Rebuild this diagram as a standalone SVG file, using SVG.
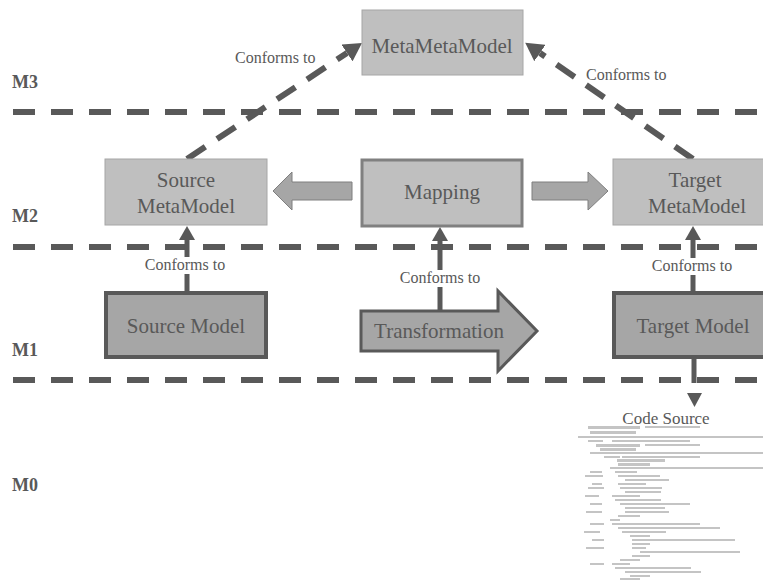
<svg xmlns="http://www.w3.org/2000/svg" width="763" height="581" viewBox="0 0 763 581" font-family="'Liberation Serif', 'DejaVu Serif', serif">
<style>
  text { font-family: 'Liberation Serif', 'DejaVu Serif', serif; fill: #595959; }
  .level { font-size: 18px; font-weight: bold; }
  .lbl { font-size: 16px; }
  .node { font-size: 21px; text-anchor: middle; }
  .meta { fill: #bfbfbf; stroke: #a6a6a6; stroke-width: 1; }
  .model { fill: #a6a6a6; stroke: #595959; stroke-width: 4; }
  .sep { stroke: #595959; stroke-width: 6; stroke-dasharray: 22 16; fill: none; }
  .dconn { stroke: #595959; stroke-width: 6; stroke-dasharray: 22 14; fill: none; }
  .sconn { stroke: #595959; stroke-width: 5; fill: none; }
  .bg { fill: #ffffff; }
  .code rect { fill: #c4c4c4; }
</style>
<defs>
  <marker id="bigHead" markerUnits="userSpaceOnUse" markerWidth="20" markerHeight="20" refX="0" refY="10" orient="auto">
    <path d="M0,0 L18,10 L0,20 z" fill="#595959"/>
  </marker>
  <marker id="smallHead" markerUnits="userSpaceOnUse" markerWidth="16" markerHeight="16" refX="0" refY="8" orient="auto">
    <path d="M0,0 L14,8 L0,16 z" fill="#595959"/>
  </marker>
</defs>
<rect width="763" height="581" fill="#ffffff"/>

<g id="levels">
  <line class="sep" x1="13" y1="112" x2="763" y2="112"/>
  <line class="sep" x1="13" y1="247" x2="763" y2="247"/>
  <line class="sep" x1="13" y1="380" x2="763" y2="380"/>
  <text class="level" x="12" y="88">M3</text>
  <text class="level" x="12" y="222">M2</text>
  <text class="level" x="12" y="356">M1</text>
  <text class="level" x="12" y="491">M0</text>
</g>

<g id="connectors">
  <line class="dconn" x1="187" y1="159" x2="347" y2="53" marker-end="url(#bigHead)"/>
  <line class="dconn" x1="693" y1="159" x2="540" y2="53" marker-end="url(#bigHead)"/>
  <line class="sconn" x1="187" y1="292" x2="187" y2="240" marker-end="url(#smallHead)"/>
  <line class="sconn" x1="440" y1="310" x2="440" y2="241" marker-end="url(#smallHead)"/>
  <line class="sconn" x1="693" y1="292" x2="693" y2="240" marker-end="url(#smallHead)"/>
  <line class="sconn" x1="694" y1="358" x2="694" y2="383"/>
  <path d="M687,393 L702,393 L694.5,407 z" fill="#595959"/>
  <text class="lbl" x="235" y="63">Conforms to</text>
  <text class="lbl" x="586" y="80">Conforms to</text>
  <rect class="bg" x="142" y="257" width="86" height="17"/>
  <text class="lbl" x="185" y="270" text-anchor="middle">Conforms to</text>
  <rect class="bg" x="397" y="270" width="86" height="17"/>
  <text class="lbl" x="440" y="283" text-anchor="middle">Conforms to</text>
  <rect class="bg" x="649" y="258" width="86" height="17"/>
  <text class="lbl" x="692" y="271" text-anchor="middle">Conforms to</text>
</g>

<g id="metametamodel">
  <rect class="meta" x="362" y="10" width="161" height="65"/>
  <text class="node" x="442" y="53">MetaMetaModel</text>
</g>

<g id="source-metamodel">
  <rect class="meta" x="105" y="159" width="162" height="66"/>
  <text class="node" x="186" y="187">Source</text>
  <text class="node" x="186" y="213">MetaModel</text>
</g>

<g id="mapping">
  <rect x="362" y="160" width="160" height="66" fill="#bfbfbf" stroke="#808080" stroke-width="3"/>
  <text class="node" x="442" y="199">Mapping</text>
</g>

<g id="mapping-to-source">
  <polygon points="273,191 292,172 292,182 352,182 352,200 292,200 292,210" fill="#a6a6a6" stroke="#7f7f7f" stroke-width="1"/>
</g>

<g id="mapping-to-target">
  <polygon points="532,182 588,182 588,172 608,191 588,210 588,200 532,200" fill="#a6a6a6" stroke="#7f7f7f" stroke-width="1"/>
</g>

<g id="target-metamodel">
  <rect class="meta" x="613" y="159" width="165" height="66"/>
  <text class="node" x="695" y="187">Target</text>
  <text class="node" x="697" y="213">MetaModel</text>
</g>

<g id="source-model">
  <rect class="model" x="106" y="293" width="160" height="64"/>
  <text class="node" x="186" y="333">Source Model</text>
</g>

<g id="transformation">
  <polygon points="361,311 498,311 498,291 537,331 498,371 498,351 361,351" fill="#a6a6a6" stroke="#595959" stroke-width="3"/>
  <text class="node" x="439" y="338">Transformation</text>
</g>

<g id="target-model">
  <rect class="model" x="614" y="293" width="160" height="64"/>
  <text class="node" x="693" y="333">Target Model</text>
</g>

<g id="code-source">
  <text x="666" y="424" font-size="17" text-anchor="middle">Code Source</text>
  <g class="code">
    <rect x="588" y="426" width="52" height="3" fill="#b0b0b0"/>
    <rect x="645" y="426" width="55" height="2"/>
    <rect x="590" y="431" width="46" height="3" fill="#b0b0b0"/>
    <rect x="578" y="436" width="185" height="2"/>
    <rect x="690" y="436" width="30" height="2" fill="#a0a0a0"/>
    <rect x="588" y="440" width="15" height="2"/>
    <rect x="612" y="440" width="78" height="2"/>
    <rect x="596" y="444" width="44" height="3" fill="#b0b0b0"/>
    <rect x="645" y="444" width="55" height="2"/>
    <rect x="600" y="448" width="36" height="3" fill="#b0b0b0"/>
    <rect x="590" y="452" width="173" height="2"/>
    <rect x="604" y="456" width="16" height="2"/>
    <rect x="622" y="456" width="78" height="2"/>
    <rect x="617" y="459" width="48" height="3" fill="#b0b0b0"/>
    <rect x="618" y="463" width="32" height="3" fill="#b0b0b0"/>
    <rect x="610" y="467" width="153" height="2"/>
    <rect x="590" y="471" width="12" height="2"/>
    <rect x="615" y="471" width="22" height="2"/>
    <rect x="618" y="475" width="42" height="2"/>
    <rect x="585" y="475" width="18" height="2"/>
    <rect x="625" y="479" width="44" height="2"/>
    <rect x="618" y="483" width="28" height="2"/>
    <rect x="592" y="483" width="10" height="2"/>
    <rect x="620" y="487" width="42" height="2"/>
    <rect x="588" y="487" width="16" height="2"/>
    <rect x="625" y="491" width="36" height="2"/>
    <rect x="612" y="495" width="28" height="2"/>
    <rect x="585" y="495" width="14" height="2"/>
    <rect x="615" y="499" width="46" height="2"/>
    <rect x="620" y="503" width="70" height="2"/>
    <rect x="590" y="503" width="12" height="2"/>
    <rect x="625" y="507" width="40" height="2"/>
    <rect x="625" y="511" width="44" height="2"/>
    <rect x="586" y="511" width="16" height="2"/>
    <rect x="618" y="515" width="22" height="2"/>
    <rect x="610" y="519" width="10" height="2"/>
    <rect x="612" y="523" width="88" height="2"/>
    <rect x="590" y="523" width="14" height="2"/>
    <rect x="618" y="527" width="102" height="2"/>
    <rect x="622" y="531" width="44" height="2"/>
    <rect x="584" y="531" width="16" height="2"/>
    <rect x="630" y="535" width="20" height="2"/>
    <rect x="632" y="539" width="103" height="2"/>
    <rect x="592" y="539" width="12" height="2"/>
    <rect x="632" y="543" width="18" height="2"/>
    <rect x="632" y="547" width="14" height="2"/>
    <rect x="586" y="547" width="18" height="2"/>
    <rect x="640" y="551" width="100" height="2"/>
    <rect x="632" y="555" width="18" height="2"/>
    <rect x="620" y="559" width="20" height="2"/>
    <rect x="612" y="563" width="18" height="2"/>
    <rect x="590" y="563" width="14" height="2"/>
    <rect x="615" y="567" width="76" height="2"/>
    <rect x="625" y="571" width="76" height="2"/>
    <rect x="630" y="575" width="20" height="2"/>
    <rect x="620" y="578" width="20" height="2"/>
  </g>
</g>
</svg>
